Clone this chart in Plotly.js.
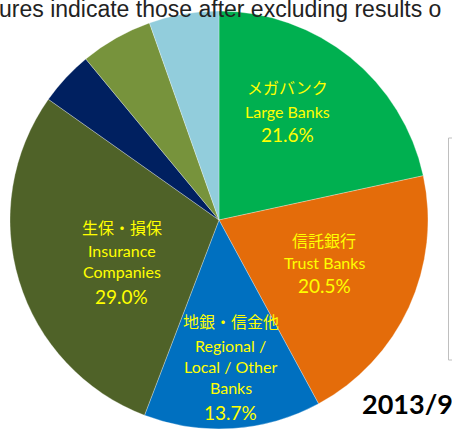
<!DOCTYPE html>
<html>
<head>
<meta charset="utf-8">
<script src="https://cdn.plot.ly/plotly-3.0.1.min.js"></script>
<style>html,body{margin:0;padding:0;background:#fff;}#chart{width:452px;height:431px;}</style>
</head>
<body>
<div id="chart"></div>
<script>
// Data
var categories = ["メガバンク", "信託銀行", "地銀・信金他", "生保・損保", "その他A", "その他B", "その他C"];
var categoriesEn = [["Large Banks"], ["Trust Banks"], ["Regional /", "Local / Other", "Banks"], ["Insurance", "Companies"], [], [], []];
var shares = [21.6, 20.5, 13.7, 29.0, 4.2, 5.6, 5.4];
var dateLabel = "2013/9";
var noteText = "ures indicate those after excluding results o";

var colors = ["#00B050", "#E46C0A", "#0070C0", "#4F6228", "#002060", "#77933C", "#92CDDC"];

// label layout (pixels): centre x and the y of each text line (JP, EN lines..., %)
var labelX = [287, 324, 231, 122];
var labelLinesY = [[87, 111, 135], [240, 262, 285], [321, 345, 366, 387, 412], [227, 250, 271, 296]];

var W = 452, H = 431;
function px(x){ return x / W; }
function py(y){ return 1 - y / H; }

var yellow = '#FFFF00';
var annotations = [];
function addText(x, y, text, font, xanchor) {
  annotations.push({
    x: px(x), y: py(y), xref: 'paper', yref: 'paper',
    xanchor: xanchor || 'center', yanchor: 'middle', showarrow: false, align: 'center',
    text: text, font: font
  });
}
for (var i = 0; i < 4; i++) {
  var lines = [categories[i]].concat(categoriesEn[i]).concat([shares[i].toFixed(1) + '%']);
  for (var j = 0; j < lines.length; j++) {
    var font;
    if (j === 0) font = {family: '"Noto Sans CJK JP", sans-serif', size: 16, color: yellow};
    else if (j === lines.length - 1) font = {family: 'Lato, "Noto Sans", sans-serif', size: 19, color: yellow};
    else font = {family: 'Lato, "Noto Sans", sans-serif', size: 16, color: yellow};
    addText(labelX[i], labelLinesY[i][j], lines[j], font);
  }
}
addText(-3, 9, noteText, {family: '"Liberation Sans", Arial, sans-serif', size: 23, color: '#222222'}, 'left');
addText(360, 403, '<b>' + dateLabel + '</b>', {family: 'Lato, "Noto Sans", sans-serif', size: 27, color: '#000000'}, 'left');

var trace = {
  type: 'pie',
  labels: categories,
  values: shares,
  sort: false,
  direction: 'clockwise',
  rotation: 0,
  marker: {colors: colors, line: {color: '#ffffff', width: 0.3}},
  textinfo: 'none',
  hoverinfo: 'label+percent',
  showlegend: false,
  domain: {x: [px(10), px(428)], y: [py(429), py(11)]}
};

var layout = {
  width: W, height: H,
  margin: {l: 0, r: 0, t: 0, b: 0},
  paper_bgcolor: '#ffffff',
  showlegend: false,
  annotations: annotations,
  shapes: [{
    type: 'rect', xref: 'paper', yref: 'paper',
    x0: px(448.5), x1: px(470), y0: py(360), y1: py(138),
    line: {color: '#BFBFBF', width: 1}, fillcolor: 'rgba(0,0,0,0)'
  }]
};

Plotly.newPlot('chart', [trace], layout, {displayModeBar: false, staticPlot: true});
</script>
</body>
</html>
